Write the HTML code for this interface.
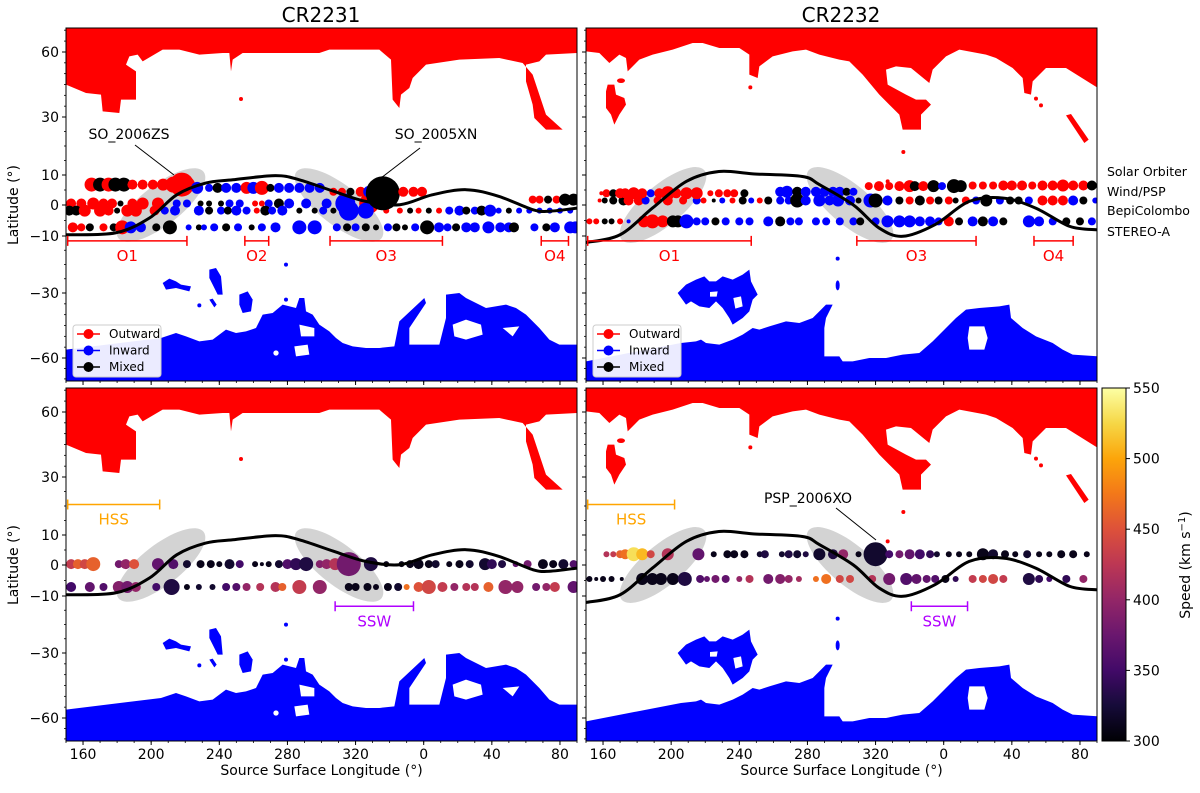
<!DOCTYPE html>
<html><head><meta charset="utf-8"><title>CR2231 / CR2232 source surface maps</title>
<style>
html,body{margin:0;padding:0;background:#fff;}
svg{display:block;font-family:"DejaVu Sans","Liberation Sans",sans-serif;}
</style></head>
<body>
<svg id="fig" width="1200" height="793" viewBox="0 0 1200 793" xmlns="http://www.w3.org/2000/svg">
<defs>
<linearGradient id="inferno" x1="0" y1="1" x2="0" y2="0">
<stop offset="0" stop-color="#000004"/><stop offset="0.1" stop-color="#160b39"/><stop offset="0.2" stop-color="#420a68"/>
<stop offset="0.3" stop-color="#6a176e"/><stop offset="0.4" stop-color="#932667"/><stop offset="0.5" stop-color="#bc3754"/>
<stop offset="0.6" stop-color="#dd513a"/><stop offset="0.7" stop-color="#f37819"/><stop offset="0.8" stop-color="#fca50a"/>
<stop offset="0.9" stop-color="#f6d746"/><stop offset="1" stop-color="#fcffa4"/>
</linearGradient>
<clipPath id="clipP"><rect x="0" y="0" width="511" height="353"/></clipPath>
</defs>
<text x="321" y="22" font-size="20" text-anchor="middle">CR2231</text>
<text x="841" y="22" font-size="20" text-anchor="middle">CR2232</text>
<text x="1107" y="176" font-size="12.5">Solar Orbiter</text>
<text x="1107" y="196" font-size="12.5">Wind/PSP</text>
<text x="1107" y="215" font-size="12.5">BepiColombo</text>
<text x="1107" y="236" font-size="12.5">STEREO-A</text>
</svg>
<script>
// ===== axis tick data =====
const latTicks=[60,30,10,0,-10,-30,-60];
const lonTicks=[160,200,240,280,320,0,40,80];
const speedTicks=[300,350,400,450,500,550];
// ===== neutral lines =====
const nlL_lon=[150,179,199,215,232,248,273,287,307,326,346,5,25,44,64,74,90];
const nlL_lat=[-9.6,-9.0,-4.2,3.4,7.3,8.4,9.8,8.4,4.6,1.2,0.1,3.4,5.1,2.9,-1.5,-2.0,-1.0];
const nlR_lon=[150,170,189,209,228,248,277,287,307,322,336,355,15,35,54,74,90];
const nlR_lat=[-12.3,-9.6,-1,7.9,11.2,10.4,9.5,6.8,0,-7.4,-10.1,-6.3,1.2,2.3,-1,-6.9,-8];
// ===== CR2231 polarity rows =====
const soL_lon=[165,170,175,179,184,189,195,201,207,213,218,221,227,234,239,244,250,256,260,265,270,275,281,287,293,299,307,312,317,323,328,336,348,354,359,64,68,73,78,83,88];
const soL_lat=[6.8,6.8,6.8,6.8,6.8,6.8,6.8,6.8,6.8,6.8,6.8,6.8,5.7,5.7,5.7,5.7,5.7,5.7,5.7,5.7,5.7,5.7,5.7,5.7,5.7,5.7,4.4,4.4,4.4,4.4,4.4,3.9,4.4,4.4,4.4,1.8,1.8,1.8,1.8,1.8,1.8];
const soL_r=[7,7,7,7,7,5,5,5,6,8,12,8,6,4,5,5,5,6,6,7,4,5,5,5,5,5,4,4,4,5,6,17,5,5,5,4,4,4,4,6,6];
const soL_pol="OMOMMOOOOOOOIIMIIOIOMIIIIIOOMOIMOOOOOMOMM".split('');
const wiL_lon=[153,159,166,172,177,182,189,195,204,215,221,229,234,241,246,252,261,265,269,275,281,291,303,314,328];
const wiL_lat=0.5;
const wiL_r=[5,5,6,5,5,3,5,6,6,4,4,3,3,3,4,4,3,3,4,5,5,5,5,10,10];
const wiL_pol="OOOOOMOOOIIMMMIIOOIMIIIIO".split('');
const beL_lon=[152,156,161,170,175,180,186,191,202,208,214,228,234,241,245,250,256,262,267,271,277,287,296,301,307,316,326,338,346,352,357,3,9,15,21,25,30,34,39,44,50,56,62,68,74,80,86];
const beL_lat=-1.8;
const beL_r=[5,5,6,6,5,3,6,6,5,4,5,5,4,4,4,5,4,3,5,4,5,3,3,4,3,10,8,3,3,3,3,3,3,4,5,4,4,5,6,3,3,3,3,3,3,3,3];
const beL_pol="MMOOOMOOOIIIMIMIIOMIIMMIMIIOOMOMOIIMIMIIMIIIIII".split('');
const stL_lon=[154,159,164,172,178,183,188,194,203,211,222,228,231,237,244,251,259,265,273,287,296,309,315,320,326,332,339,344,349,355,2,9,14,19,25,30,38,45,50,53,65,72,77,86,89];
const stL_lat=-7.2;
const stL_r=[5,4,4,4,4,7,6,5,4,7,3,3,3,4,4,4,3,4,5,7,7,4,4,4,4,3,4,4,3,4,7,5,4,4,5,5,6,5,5,5,4,4,5,6,6];
const stL_pol="OOMOMOIIMMIMIIMIMIIIIIMIMMIMMIMIIMIIIIIMIMIII".split('');
// ===== CR2232 polarity rows =====
const soR_lon=[159,162,166,170,173,178,183,188,193,198,203,209,215,223,228,233,237,243,264,268,274,279,285,290,295,299,303,307,316,322,328,334,340,343,348,354,359,6,10,17,23,29,35,40,46,52,58,64,70,76,82,87];
const soR_lat=[3.9,3.9,3.9,3.9,3.9,3.9,3.9,3.9,3.9,3.9,3.9,3.9,3.9,3.9,3.9,3.9,3.9,3.9,4.4,4.4,4.4,4.4,4.4,4.4,4.4,4.4,4.4,4.4,6.3,6.3,6.3,6.3,6.3,6.3,6.3,6.3,6.3,6.3,6.3,6.5,6.5,6.5,6.5,6.5,6.5,6.5,6.5,6.5,6.5,6.5,6.5,6.5];
const soR_r=[2,4,4,5,5,6,5,4,5,7,5,6,6,3,4,4,4,4,5,6,5,5,5,5,5,5,4,4,4,5,4,5,6,5,5,6,4,7,6,4,4,4,5,5,5,4,5,5,6,5,5,5];
const soR_pol="OOMOOOOIOOOOOOOOOMIIMIIIIIMIOOOOOMOMIMMOOOOOOOOOOOO".split('');
const wiR_lon=[158,161,166,172,175,181,185,192,198,207,215,219,225,230,236,242,247,252,257,264,269,274,279,287,293,298,305,310,317,320,327,334,340,346,352,357,3,7,13,19,25,33,39,44,50,58,64,70,76,82,89];
const wiR_lat=1.5;
const wiR_r=[2,3,4,5,5,5,4,4,5,4,4,3,2,3,3,4,3,3,4,4,4,7,5,6,5,6,5,3,7,7,5,4,4,5,4,4,4,3,4,4,6,4,4,4,4,5,5,5,5,4,3];
const wiR_pol="OMMMOOIOOOIOMIOMIOMIIMIIIIIMIMIMOMOMOMOIMIMMIOOOIMI".split('');
const stR_lon=[152,156,161,165,170,175,184,189,195,201,204,209,215,220,226,232,240,246,257,264,270,275,285,291,299,307,311,320,327,334,340,346,352,357,3,9,17,23,29,35,50,56,64,72,80,87];
const stR_lat=-5.3;
const stR_r=[3,3,3,3,3,2,6,7,6,6,6,7,4,4,4,4,4,4,5,5,4,4,4,4,4,4,4,4,6,6,6,5,5,4,5,4,5,5,5,4,6,5,4,4,4,4];
const stR_pol="OOMMOIOOOMMIIIMIIIIMIIIIIIMIIIIIIIOMIMIMIIIMMI".split('');
// ===== CR2231 speed rows =====
const s1L_lon=[153,157,161,166,181,185,190,204,213,221,229,235,240,246,252,261,265,269,275,280,285,291,299,303,308,316,329,338,347,352,357,3,7,15,21,27,36,40,46,54,61,70,76,82,88];
const s1L_lat=0.3;
const s1L_r=[5,5,5,7,4,5,5,6,5,4,4,4,3,5,4,3,2,3,4,5,6,7,4,5,6,12,7,3,3,4,5,4,4,3,4,4,6,5,4,3,4,5,4,5,4];
const s1L_v=[430,460,440,460,380,400,450,370,360,320,310,310,310,320,350,310,310,310,320,360,340,330,390,400,420,380,330,310,310,310,310,310,320,310,310,320,320,340,330,370,380,310,310,320,360];
const s2L_lon=[153,164,172,181,186,191,203,212,221,228,236,244,250,256,264,273,277,287,299,316,320,327,332,339,345,350,357,3,11,18,25,30,38,48,55,66,72,77,88];
const s2L_lat=-7.1;
const s2L_r=[5,5,4,6,6,5,4,8,3,3,3,4,4,4,4,5,4,7,7,4,4,4,3,4,4,3,5,7,5,4,4,4,5,7,6,4,4,5,6];
const s2L_v=[350,370,360,390,380,400,350,330,310,320,320,350,360,400,420,420,460,430,400,310,310,310,310,310,320,470,450,440,430,400,420,420,460,400,400,380,400,430,370];
// ===== CR2232 speed rows =====
const s1R_lon=[162,166,170,173,178,183,188,198,216,225,233,237,243,252,255,265,269,274,279,287,295,301,310,320,328,334,340,346,352,356,3,9,15,23,29,36,42,49,56,62,69,76,84];
const s1R_lat=3.6;
const s1R_r=[3,3,4,5,7,6,4,6,6,3,4,4,4,3,4,3,4,4,3,6,5,5,3,12,4,4,5,5,4,3,3,3,3,6,5,4,3,4,3,3,4,4,3];
const s1R_v=[420,430,460,470,530,510,440,420,370,310,310,310,310,320,330,320,330,320,330,320,330,400,310,320,350,380,370,350,340,320,310,310,310,310,320,310,310,320,310,310,310,310,310];
const s2R_lon=[152,156,160,165,171,183,189,194,201,208,217,221,226,232,240,246,257,264,269,275,285,291,299,305,318,328,338,344,350,355,1,7,17,23,29,35,50,56,62,72,82];
const s2R_lat=-4.5;
const s2R_r=[3,2,3,3,2,6,6,6,6,7,4,3,4,4,3,4,5,5,4,3,3,5,4,4,4,6,6,5,4,4,4,3,4,4,5,4,6,4,3,4,4];
const s2R_v=[310,310,310,310,310,310,310,310,310,330,360,370,380,370,400,420,380,390,400,410,470,470,440,440,420,380,360,370,370,360,310,340,430,440,440,430,330,340,350,340,400];
// ===== coronal hole outlines (map-pixel units of 1/3 px, panel-relative) =====
const chNorthL=[0,0,0,170,60,195,105,200,110,250,160,255,165,215,210,215,210,130,180,110,190,85,215,80,230,100,290,65,340,65,400,80,470,75,490,75,495,130,500,95,530,75,760,75,790,65,940,65,975,95,980,215,1000,240,1005,200,1030,180,1040,150,1080,110,1180,95,1300,90,1370,105,1400,140,1420,200,1440,260,1490,305,1440,305,1405,270,1400,230,1380,160,1380,110,1420,100,1440,80,1536,75,1536,0];
const chSouthL=[0,1062,0,965,285,930,330,915,360,925,400,940,440,935,480,905,510,915,540,910,570,900,590,860,620,855,650,830,690,840,700,810,715,810,720,850,740,860,760,890,790,910,810,930,830,945,860,955,900,960,940,960,985,955,1000,880,1075,810,1080,825,1030,900,1030,950,1120,950,1140,870,1140,800,1180,795,1200,810,1260,840,1320,830,1350,840,1380,860,1420,900,1450,935,1480,950,1536,950,1536,1062];
const chSouthLholes=[[1160,890,1200,875,1245,890,1250,920,1200,935,1165,925],[1310,900,1360,895,1340,925],[700,890,745,900,745,925,705,925],[685,955,725,950,730,980,690,985]];
const chSouthLisl=[[290,765,310,752,330,760,345,770,375,775,370,790,330,780,300,785],[430,725,450,720,465,745,470,800,455,800,440,770,430,750],[520,800,545,790,560,815,555,850,530,855,520,830],[430,815,440,812,452,830,445,838]];
const chNorthR=[0,0,0,70,40,75,70,105,100,80,120,90,125,130,160,95,200,80,260,65,320,45,350,45,400,60,460,60,490,80,490,140,515,150,520,115,560,85,620,70,660,65,700,80,760,95,790,100,830,140,880,200,940,260,950,305,1005,305,1005,260,1035,230,1020,215,990,215,960,200,905,170,900,125,930,115,975,120,1030,165,1040,125,1080,85,1120,65,1200,80,1230,90,1280,120,1310,150,1315,195,1335,200,1340,160,1380,120,1440,120,1536,180,1536,0];
const chNorthRisl=[[65,170,85,170,90,200,115,210,120,230,100,260,85,290,75,260,60,240,60,190],[1440,262,1455,258,1508,335,1495,345]];
const chSouthR=[0,1062,0,1000,285,945,330,940,345,935,360,945,400,950,440,935,470,920,500,900,520,905,550,895,600,880,640,885,680,870,700,850,720,830,740,830,720,870,715,900,715,985,760,985,770,1000,800,1000,850,990,900,990,950,980,1000,975,1040,940,1080,900,1110,870,1140,845,1180,840,1240,835,1270,830,1275,870,1310,900,1350,925,1400,945,1430,965,1460,980,1536,985,1536,1062];
const chSouthRholes=[[1150,895,1195,895,1205,930,1195,965,1150,965,1145,930]];
const chSouthRisl=[[275,795,300,770,330,755,355,745,370,760,390,760,410,745,440,755,470,740,490,725,495,760,515,800,500,815,490,850,470,870,440,890,430,870,410,840,390,820,370,840,340,835,315,820,300,830]];
const chSouthRislHoles=[[372,792,395,790,392,806,372,806],[442,810,465,805,470,835,448,842]];

// ===== helpers =====
const NS='http://www.w3.org/2000/svg';
const svg=document.getElementById('fig');
const PW=511, PH=353;
const panels=[{x0:66,y0:28,cr:'L',kind:'pol'},{x0:586,y0:28,cr:'R',kind:'pol'},{x0:66,y0:388,cr:'L',kind:'speed'},{x0:586,y0:388,cr:'R',kind:'speed'}];
const LAT_K=[71,60,30,10,0,-10,-30,-60,-71];
const PY_K=[0,24,89,147,177,208,265,330,353];
function unwrap(l){return l<150?l+360:l;}
function xScale(lon){return (unwrap(lon)-150)*PW/300;}
function yScale(lat){
  for(let i=0;i<LAT_K.length-1;i++){
    if(lat<=LAT_K[i]&&lat>=LAT_K[i+1]){return PY_K[i]+(LAT_K[i]-lat)/(LAT_K[i]-LAT_K[i+1])*(PY_K[i+1]-PY_K[i]);}
  }
  return lat>0?0:PH;
}
function el(tag,attrs,parent){const e=document.createElementNS(NS,tag);for(const k in attrs)e.setAttribute(k,attrs[k]);(parent||svg).appendChild(e);return e;}
function polyPts(a){let s='';for(let i=0;i<a.length;i+=2)s+=a[i]+','+a[i+1]+' ';return s;}
function pathOf(a){let s='M';for(let i=0;i<a.length;i+=2)s+=(i?'L':'')+a[i]+' '+a[i+1];return s+'Z';}
const INF=['#000004','#160b39','#420a68','#6a176e','#932667','#bc3754','#dd513a','#f37819','#fca50a','#f6d746','#fcffa4'];
function hex(c){return [parseInt(c.substr(1,2),16),parseInt(c.substr(3,2),16),parseInt(c.substr(5,2),16)];}
function inferno(v){let t=Math.max(0,Math.min(1,(v-300)/250))*10;const i=Math.min(9,Math.floor(t));const f=t-i;const a=hex(INF[i]),b=hex(INF[i+1]);return 'rgb('+a.map((x,k)=>Math.round(x+(b[k]-x)*f)).join(',')+')';}
const POLC={O:'#ff0000',I:'#0000ff',M:'#000000'};
function smoothPath(lons,lats){
  const p=lons.map((l,i)=>[xScale(l),yScale(lats[i])]);
  let d='M'+p[0][0]+' '+p[0][1];
  for(let i=0;i<p.length-1;i++){
    const p0=p[Math.max(0,i-1)],p1=p[i],p2=p[i+1],p3=p[Math.min(p.length-1,i+2)];
    const c1=[p1[0]+(p2[0]-p0[0])/6,p1[1]+(p2[1]-p0[1])/6],c2=[p2[0]-(p3[0]-p1[0])/6,p2[1]-(p3[1]-p1[1])/6];
    d+='C'+c1[0]+' '+c1[1]+' '+c2[0]+' '+c2[1]+' '+p2[0]+' '+p2[1];
  }
  return d;
}
function scatterRow(g,lons,lat,rs,colorFn,name){
  lons.forEach((l,i)=>{
    const la=Array.isArray(lat)?lat[i]:lat;
    const c=el('circle',{cx:xScale(l),cy:yScale(la),r:rs[i],fill:colorFn(i)},g);
    
    
  });
}
function intervalBar(g,lon1,lon2,lat,color,label,name){
  const x1=xScale(lon1),x2=xScale(lon2),y=yScale(lat);
  const b=el('path',{d:'M'+x1+' '+y+'H'+x2+'M'+x1+' '+(y-5)+'V'+(y+5)+'M'+x2+' '+(y-5)+'V'+(y+5),stroke:color,'stroke-width':1.5,fill:'none'},g);
  
  
  const t=el('text',{x:(x1+x2)/2,y:y+20,'font-size':15,fill:color,'text-anchor':'middle'},g);
  t.textContent=label;
  
  
}

panels.forEach((P,pi)=>{
  const g=el('g',{transform:'translate('+P.x0+','+P.y0+')'});
  
  
  const inner=el('g',{'clip-path':'url(#clipP)'},g);
  const mg=el('g',{transform:'scale(0.33333)'},inner);
  
  
  if(P.cr==='L'){
    const n=el('polygon',{points:polyPts(chNorthL),fill:'#ff0000'},mg);
    
    
    el('circle',{cx:525,cy:213,r:6,fill:'#ff0000'},mg);
    let d=pathOf(chSouthL);chSouthLholes.forEach(h=>d+=pathOf(h));
    const s=el('path',{d:d,fill:'#0000ff','fill-rule':'evenodd'},mg);
    
    
    chSouthLisl.forEach(a=>el('polygon',{points:polyPts(a),fill:'#0000ff'},mg));
    el('circle',{cx:630,cy:975,r:8,fill:'#fff'},mg);
    el('circle',{cx:660,cy:710,r:6,fill:'#0000ff'},mg);
    el('circle',{cx:660,cy:815,r:6,fill:'#0000ff'},mg);
    el('circle',{cx:400,cy:832,r:6,fill:'#0000ff'},mg);
  }else{
    const n=el('polygon',{points:polyPts(chNorthR),fill:'#ff0000'},mg);
    
    
    chNorthRisl.forEach(a=>el('polygon',{points:polyPts(a),fill:'#ff0000'},mg));
    el('ellipse',{cx:105,cy:158,rx:12,ry:7,fill:'#ff0000'},mg);
    el('circle',{cx:493,cy:178,r:6,fill:'#ff0000'},mg);
    el('circle',{cx:1350,cy:212,r:6,fill:'#ff0000'},mg);
    el('circle',{cx:1365,cy:232,r:6,fill:'#ff0000'},mg);
    el('circle',{cx:952,cy:372,r:6,fill:'#ff0000'},mg);
    el('circle',{cx:905,cy:460,r:6,fill:'#ff0000'},mg);
    let d=pathOf(chSouthR);chSouthRholes.forEach(h=>d+=pathOf(h));
    const s=el('path',{d:d,fill:'#0000ff','fill-rule':'evenodd'},mg);
    
    
    let d2='';chSouthRisl.forEach(h=>d2+=pathOf(h));chSouthRislHoles.forEach(h=>d2+=pathOf(h));
    el('path',{d:d2,fill:'#0000ff','fill-rule':'evenodd'},mg);
    el('circle',{cx:755,cy:692,r:6,fill:'#0000ff'},mg);
    el('ellipse',{cx:755,cy:772,rx:6,ry:15,fill:'#0000ff'},mg);
  }
  const ec=P.cr==='L'?[[95,-38],[273,38]]:[[77,-40],[264,40]];
  ec.forEach((e,k)=>{
    const o=el('ellipse',{cx:0,cy:0,rx:54,ry:20,fill:'#d3d3d3',transform:'translate('+e[0]+',177) rotate('+e[1]+')'},inner);
    
    
  });
  const sg=el('g',{},inner);
  
  
  if(P.kind==='pol'){
    if(P.cr==='L'){
      scatterRow(sg,wiL_lon,wiL_lat,wiL_r,i=>POLC[wiL_pol[i]],'wind');
      scatterRow(sg,beL_lon,beL_lat,beL_r,i=>POLC[beL_pol[i]],'bepicolombo');
      scatterRow(sg,stL_lon,stL_lat,stL_r,i=>POLC[stL_pol[i]],'stereo-a');
      scatterRow(sg,soL_lon,soL_lat,soL_r,i=>POLC[soL_pol[i]],'solar-orbiter');
    }else{
      scatterRow(sg,wiR_lon,wiR_lat,wiR_r,i=>POLC[wiR_pol[i]],'wind');
      scatterRow(sg,stR_lon,stR_lat,stR_r,i=>POLC[stR_pol[i]],'stereo-a');
      scatterRow(sg,soR_lon,soR_lat,soR_r,i=>POLC[soR_pol[i]],'solar-orbiter');
    }
  }else{
    if(P.cr==='L'){
      scatterRow(sg,s1L_lon,s1L_lat,s1L_r,i=>inferno(s1L_v[i]),'wind-speed');
      scatterRow(sg,s2L_lon,s2L_lat,s2L_r,i=>inferno(s2L_v[i]),'stereo-a-speed');
    }else{
      scatterRow(sg,s1R_lon,s1R_lat,s1R_r,i=>inferno(s1R_v[i]),'psp-speed');
      scatterRow(sg,s2R_lon,s2R_lat,s2R_r,i=>inferno(s2R_v[i]),'stereo-a-speed');
    }
  }
  const nl=el('path',{d:P.cr==='L'?smoothPath(nlL_lon,nlL_lat):smoothPath(nlR_lon,nlR_lat),fill:'none',stroke:'#000','stroke-width':3},inner);
  
  
  if(P.kind==='pol'){
    if(P.cr==='L'){
      intervalBar(g,151,221,-11.7,'#ff0000','O1','interval-o1');
      intervalBar(g,255,269,-11.7,'#ff0000','O2','interval-o2');
      intervalBar(g,305,371,-11.7,'#ff0000','O3','interval-o3');
      intervalBar(g,429,445,-11.7,'#ff0000','O4','interval-o4');
    }else{
      intervalBar(g,151,247,-11.7,'#ff0000','O1','interval-o1');
      intervalBar(g,309,379,-11.7,'#ff0000','O3','interval-o3');
      intervalBar(g,413,436,-11.7,'#ff0000','O4','interval-o4');
    }
  }else{
    const hl=P.cr==='L'?[151,205]:[151,202];
    const sl=P.cr==='L'?[308,354]:[341,374];
    intervalBar(g,hl[0],hl[1],20.5,'#ffa500','HSS','interval-hss');
    intervalBar(g,sl[0],sl[1],-13.6,'#b000ff','SSW','interval-ssw');
  }
  const fr=el('rect',{x:0,y:0,width:PW,height:PH,fill:'none',stroke:'#000','stroke-width':1},g);
  
  
  for(let la=-70;la<=70;la+=5){ el('line',{x1:-2,x2:0,y1:yScale(la),y2:yScale(la),stroke:'#000','stroke-width':0.8},g); }
  latTicks.forEach(la=>{
    el('line',{x1:-4,x2:0,y1:yScale(la),y2:yScale(la),stroke:'#000','stroke-width':1},g);
    if(P.x0<100){
      const t=el('text',{x:-7,y:yScale(la)+5,'font-size':14,'text-anchor':'end'},g);
      t.textContent=(la<0?'\u2212':'')+Math.abs(la);
      
      
    }
  });
  for(let l=150;l<=450;l+=10){ const x=xScale(l%360); if(x>=0&&x<=PW) el('line',{x1:x,x2:x,y1:PH,y2:PH+2,stroke:'#000','stroke-width':0.8},g); }
  lonTicks.forEach(l=>{
    const x=xScale(l);
    el('line',{x1:x,x2:x,y1:PH,y2:PH+4,stroke:'#000','stroke-width':1},g);
    if(P.kind==='speed'){
      const t=el('text',{x:x,y:PH+18,'font-size':14,'text-anchor':'middle'},g);
      t.textContent=l;
      
      
    }
  });
  if(P.kind==='speed'){
    const t=el('text',{x:PW/2,y:PH+34,'font-size':14,'text-anchor':'middle'},g);
    t.textContent='Source Surface Longitude (\u00b0)';
    
    
  }
  if(P.x0<100){
    const t=el('text',{x:0,y:0,'font-size':14,'text-anchor':'middle',transform:'translate(-48,177) rotate(-90)'},g);
    t.textContent='Latitude (\u00b0)';
    
    
  }
  if(P.kind==='pol'){
    const lg=el('g',{},g);
    
    
    el('rect',{x:7,y:297,width:88,height:52,rx:3,fill:'#fff','fill-opacity':0.92,stroke:'#ccc'},lg);
    [['Outward','#ff0000'],['Inward','#0000ff'],['Mixed','#000000']].forEach((e,k)=>{
      const y=306+k*16.5;
      el('line',{x1:11,x2:34,y1:y,y2:y,stroke:e[1],'stroke-width':1.5},lg);
      el('circle',{cx:22.5,cy:y,r:5,fill:e[1]},lg);
      const t=el('text',{x:43,y:y+4,'font-size':12},lg);
      t.textContent=e[0];
      
      
    });
  }
  function annot(txt,tx,ty,x1,y1,x2,y2,name){
    el('line',{x1:x1,y1:y1,x2:x2,y2:y2,stroke:'#000','stroke-width':1},g);
    const t=el('text',{x:tx,y:ty,'font-size':14,'text-anchor':'middle'},g);
    t.textContent=txt;
    
    
  }
  if(pi===0){
    annot('SO_2006ZS',63,111,69,117,108,147,'annotation-so-2006zs');
    annot('SO_2005XN',370,111,354,120,315,150,'annotation-so-2005xn');
  }
  if(pi===3){
    annot('PSP_2006XO',222,115,250,120,290,152,'annotation-psp-2006xo');
  }
});
(function(){
  const g=el('g',{transform:'translate(1102,388)'});
  
  
  el('rect',{x:0,y:0,width:24,height:353,fill:'url(#inferno)',stroke:'#000','stroke-width':1},g);
  speedTicks.forEach(v=>{
    const y=353-(v-300)/250*353;
    el('line',{x1:24,x2:28,y1:y,y2:y,stroke:'#000'},g);
    const t=el('text',{x:31,y:y+5,'font-size':14},g);
    t.textContent=v;
    
    
  });
  const t=el('text',{x:0,y:0,'font-size':14,'text-anchor':'middle',transform:'translate(88,177) rotate(-90)'},g);
  t.innerHTML='Speed (km s<tspan baseline-shift="super" font-size="10">\u22121</tspan>)';
  
  
})();
</script>
</body></html>
